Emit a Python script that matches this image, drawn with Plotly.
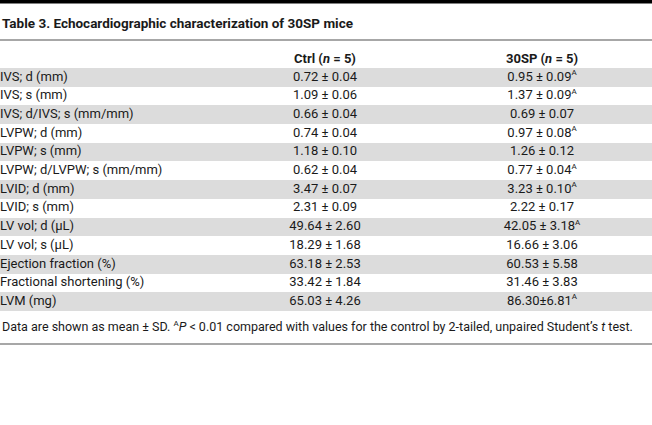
import plotly.graph_objects as go

# ---- data ----
params = ["IVS; d (mm)", "IVS; s (mm)", "IVS; d/IVS; s (mm/mm)", "LVPW; d (mm)",
          "LVPW; s (mm)", "LVPW; d/LVPW; s (mm/mm)", "LVID; d (mm)", "LVID; s (mm)",
          "LV vol; d (μL)", "LV vol; s (μL)", "Ejection fraction (%)",
          "Fractional shortening (%)", "LVM (mg)"]
ctrl_mean = [0.72, 1.09, 0.66, 0.74, 1.18, 0.62, 3.47, 2.31, 49.64, 18.29, 63.18, 33.42, 65.03]
ctrl_sd = [0.04, 0.06, 0.04, 0.04, 0.10, 0.04, 0.07, 0.09, 2.60, 1.68, 2.53, 1.84, 4.26]
sp_mean = [0.95, 1.37, 0.69, 0.97, 1.26, 0.77, 3.23, 2.22, 42.05, 16.66, 60.53, 31.46, 86.30]
sp_sd = [0.09, 0.09, 0.07, 0.08, 0.12, 0.04, 0.10, 0.17, 3.18, 3.06, 5.58, 3.83, 6.81]
sp_sig = [True, True, False, True, False, True, True, False, True, False, False, False, True]
sp_compact = [False] * 12 + [True]
col_headers = ["<b>Ctrl (<i>n</i> = 5)</b>", "<b>30SP (<i>n</i> = 5)</b>"]
title = "<b>Table 3. Echocardiographic characterization of 30SP mice</b>"
SUP_A = "<sup><span style='font-size:8px'>A</span></sup>"
footnote = ("Data are shown as mean ± SD. " + SUP_A + "<i>P</i> < 0.01 compared with values for the "
            "control by 2-tailed, unpaired Student’s <i>t</i> test.")

# ---- layout constants ----
W, H = 652, 425
ROW_TOP, ROW_BOT = 68, 311
n = len(params)
row_h = (ROW_BOT - ROW_TOP) / n
y_top_val = -(ROW_TOP + row_h / 2) / row_h
y_bot_val = y_top_val + H / row_h
X_CTRL, X_SP = 325, 542
FONT = "Roboto"
TXT = "#1a1a1a"
SHADE = "#dcdcdc"

def fmt(m, s, sig=False, compact=False):
    sep = "±" if compact else " ± "
    t = f"{m:.2f}{sep}{s:.2f}"
    if sig:
        t += SUP_A
    return t

ctrl_txt = [fmt(m, s) for m, s in zip(ctrl_mean, ctrl_sd)]
sp_txt = [fmt(m, s, g, c) for m, s, g, c in zip(sp_mean, sp_sd, sp_sig, sp_compact)]

fig = go.Figure()
shaded = [p for i, p in enumerate(params) if i % 2 == 0]
fig.add_trace(go.Bar(y=shaded, x=[W] * len(shaded), base=0, orientation="h",
                     marker=dict(color=SHADE, line=dict(width=0)), width=1,
                     hoverinfo="skip", showlegend=False))
fig.add_trace(go.Scatter(x=[0] * n, y=params, mode="text", text=params,
                         textposition="middle right",
                         textfont=dict(family=FONT, size=13, color=TXT), showlegend=False))
fig.add_trace(go.Scatter(x=[X_CTRL] * n, y=params, mode="text", text=ctrl_txt,
                         textposition="middle center",
                         textfont=dict(family=FONT, size=13, color=TXT), showlegend=False))
fig.add_trace(go.Scatter(x=[X_SP] * n, y=params, mode="text", text=sp_txt,
                         textposition="middle center",
                         textfont=dict(family=FONT, size=13, color=TXT), showlegend=False))

def py(p):
    return 1 - p / H

annots = [
    dict(text=title, x=0, y=py(23), xanchor="left", font=dict(size=13.5)),
    dict(text=col_headers[0], x=X_CTRL / W, y=py(59), xanchor="center", font=dict(size=13)),
    dict(text=col_headers[1], x=X_SP / W, y=py(59), xanchor="center", font=dict(size=13)),
    dict(text=footnote, x=0, y=py(326), xanchor="left", font=dict(size=12.5)),
]
for a in annots:
    a.update(xref="paper", yref="paper", yanchor="middle", showarrow=False)
    a["font"].update(family=FONT, color=TXT)
    fig.add_annotation(**a)

shapes = [
    dict(type="rect", x0=0, x1=1, y0=py(0), y1=py(3.5), fillcolor="black", line=dict(width=0)),
    dict(type="line", x0=0, x1=1, y0=py(40), y1=py(40), line=dict(color="#8a8a8a", width=1.5)),
    dict(type="line", x0=0, x1=1, y0=py(344), y1=py(344), line=dict(color="#8a8a8a", width=1.5)),
]
for s in shapes:
    s.update(xref="paper", yref="paper")
    fig.add_shape(**s)

fig.update_layout(
    width=W, height=H, margin=dict(l=0, r=0, t=0, b=0),
    paper_bgcolor="white", plot_bgcolor="white", bargap=0,
    xaxis=dict(range=[0, W], visible=False, fixedrange=True),
    yaxis=dict(type="category", categoryorder="array", categoryarray=params,
               range=[y_bot_val, y_top_val], visible=False, fixedrange=True),
)
fig.write_html("out.html", config={"displayModeBar": False},
               post_script="document.body.style.margin='0';")
